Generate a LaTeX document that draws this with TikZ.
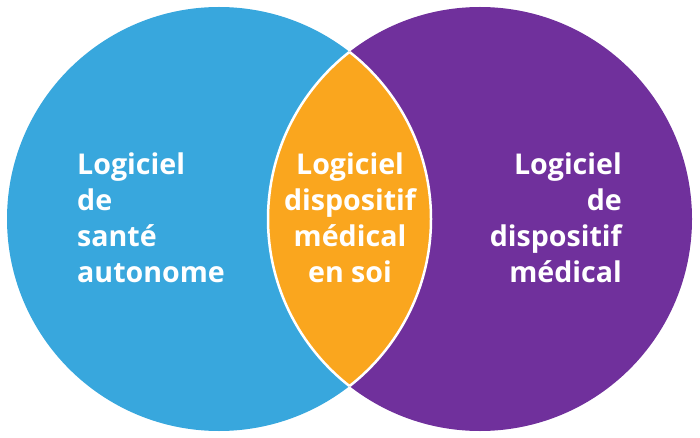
\documentclass[tikz,border=0pt]{standalone}
\usepackage{fontspec}
\setmainfont{Open Sans}
\definecolor{vblue}{RGB}{56,167,221}
\definecolor{vpurple}{RGB}{112,48,156}
\definecolor{vorange}{RGB}{250,166,30}
\begin{document}
\begin{tikzpicture}[x=1pt,y=-1pt,
  lbl/.style={text=white, font=\fontsize{28.6}{35.8}\selectfont\bfseries, inner sep=0pt}]
\useasboundingbox (0,0) rectangle (700,438);
\coordinate (cl) at (219,219);
\coordinate (cr) at (480,219);
\fill[vblue] (cl) circle (212pt);
\fill[vpurple] (cr) circle (212pt);
\begin{scope}
  \clip (cl) circle (212pt);
  \fill[vorange] (cr) circle (212pt);
  \draw[white, line width=2.5pt] (cr) circle (212pt);
\end{scope}
\begin{scope}
  \clip (cr) circle (212pt);
  \draw[white, line width=2.5pt] (cl) circle (212pt);
\end{scope}
\node[lbl, align=left, anchor=base west] (tl) at (77,282) {Logiciel\\de\\santé\\autonome};
\node[lbl, align=center, anchor=base] (tc) at (350,282) {Logiciel\\dispositif\\médical\\en soi};
\node[lbl, align=right, anchor=base east] (tr) at (622,282) {Logiciel\\de\\dispositif\\médical};
\end{tikzpicture}
\end{document}
